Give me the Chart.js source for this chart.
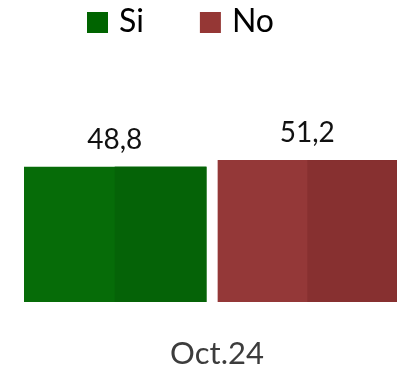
<!DOCTYPE html>
<html>
<head>
<meta charset="utf-8">
<script src="https://cdn.jsdelivr.net/npm/chart.js@4.4.0/dist/chart.umd.min.js"></script>
<style>
body { margin: 0; background: #fff; }
</style>
</head>
<body>
<canvas id="votes" width="398" height="371"></canvas>
<script>
const periods = ['Oct.24'];
const seriesNames = ['Si', 'No'];
const siValues = [48.8];
const noValues = [51.2];

const barColors = ['#066c08', '#943838'];
const shadeColors = ['#056307', '#873030'];
const legendColors = ['#006400', '#953735'];
const fontFamily = 'Lato, "Open Sans", sans-serif';

// values are shown with a decimal comma
function formatValue(v) {
    return v.toFixed(1).replace('.', ',');
}

// right half of each bar a bit darker
const halfShade = {
    id: 'halfShade',
    afterDatasetsDraw(chart) {
        const ctx = chart.ctx;
        chart.data.datasets.forEach((ds, i) => {
            chart.getDatasetMeta(i).data.forEach(bar => {
                const p = bar.getProps(['x', 'y', 'base', 'width'], true);
                ctx.save();
                ctx.fillStyle = shadeColors[i];
                ctx.fillRect(p.x, p.y, p.width / 2, p.base - p.y);
                ctx.restore();
            });
        });
    }
};

// number above every bar
const valueLabels = {
    id: 'valueLabels',
    afterDatasetsDraw(chart) {
        const ctx = chart.ctx;
        ctx.save();
        ctx.font = '28px ' + fontFamily;
        ctx.fillStyle = '#111';
        ctx.textAlign = 'center';
        ctx.textBaseline = 'alphabetic';
        chart.data.datasets.forEach((ds, i) => {
            chart.getDatasetMeta(i).data.forEach((bar, j) => {
                const p = bar.getProps(['x', 'y'], true);
                ctx.fillText(formatValue(ds.data[j]), p.x, p.y - 18);
            });
        });
        ctx.restore();
    }
};

// legend row, squares + names
const topLegend = {
    id: 'topLegend',
    afterDraw(chart) {
        const ctx = chart.ctx;
        let x = 87;
        ctx.save();
        ctx.font = '32px ' + fontFamily;
        ctx.textBaseline = 'alphabetic';
        seriesNames.forEach((name, i) => {
            ctx.fillStyle = legendColors[i];
            ctx.fillRect(x, 12, 21, 21);
            ctx.fillStyle = '#000';
            ctx.fillText(name, x + 32, 32);
            x += 32 + ctx.measureText(name).width + 56;
        });
        ctx.restore();
    }
};

const chart = new Chart(document.getElementById('votes'), {
    type: 'bar',
    data: {
        labels: periods,
        datasets: [{
            label: seriesNames[0],
            data: siValues,
            backgroundColor: barColors[0],
            categoryPercentage: 1.03,
            barPercentage: 0.953
        }, {
            label: seriesNames[1],
            data: noValues,
            backgroundColor: barColors[1],
            categoryPercentage: 1.03,
            barPercentage: 0.931
        }]
    },
    options: {
        responsive: false,
        animation: false,
        layout: {
            padding: { left: 24, right: 0, top: 0, bottom: 0 }
        },
        plugins: {
            legend: { display: false },
            tooltip: { enabled: false }
        },
        scales: {
            x: {
                grid: { display: false },
                border: { display: false },
                ticks: {
                    color: '#3c3c3c',
                    padding: 28,
                    labelOffset: 6,
                    font: { family: fontFamily, size: 31, lineHeight: 1 }
                },
                // fixed strip under the bars for the period label
                afterFit(axis) {
                    axis.height = 69;
                }
            },
            y: {
                display: false,
                min: 0,
                max: 108.9
            }
        }
    },
    plugins: [halfShade, valueLabels, topLegend]
});
</script>
</body>
</html>
